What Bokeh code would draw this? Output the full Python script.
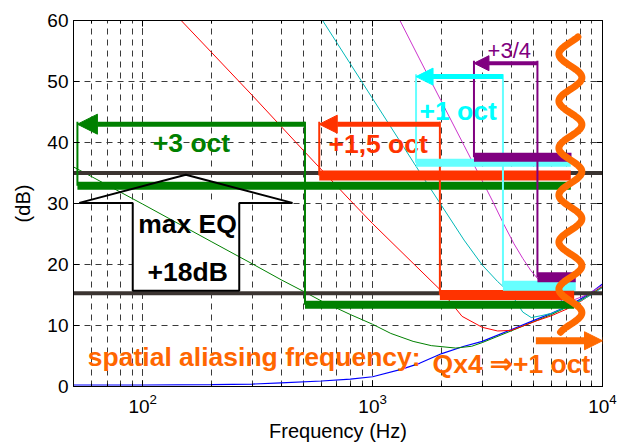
import numpy as np
from bokeh.plotting import figure
from bokeh.models import Arrow, NormalHead, FixedTicker, LogAxis, LinearAxis, CustomJSTickFormatter
from bokeh.core.properties import value
from bokeh.embed import file_html
from bokeh.resources import INLINE

# ---------------- data ----------------
y_ticks = [0, 10, 20, 30, 40, 50, 60]

blue_f = [50, 100, 200, 300, 400, 600, 800, 1000, 1330, 1600, 2000, 2500, 3000, 4000, 5000, 6000, 7000, 8000, 9000, 10000]
blue_db = [0.25, 0.25, 0.3, 0.4, 0.6, 0.9, 1.2, 1.6, 2.8, 3.8, 5.4, 6.6, 7.4, 9.3, 10.8, 12.0, 13.1, 14.3, 15.5, 16.8]

green_f = [50, 100, 200, 300, 400, 500, 600, 800, 1000, 1200, 1500, 1800, 2300, 2700, 3000, 4000, 5000, 6000, 7000, 8000, 9000, 10000]
green_db = [36, 29.9, 23.7, 20.1, 17.5, 15.6, 14.0, 11.8, 10.2, 8.7, 7.4, 6.7, 6.3, 6.6, 7.2, 9.1, 10.6, 11.8, 13.0, 14.1, 15.3, 16.4]

red_f = [147, 200, 300, 500, 800, 1000, 1500, 2000, 2450, 3000, 3500, 4000, 4500, 5200, 6000, 7000, 8000, 9000, 10000]
red_db = [60, 54.7, 47.7, 38.7, 30.5, 26.7, 20.2, 15.6, 11.5, 9.7, 9.1, 9.2, 9.9, 10.8, 11.6, 12.7, 13.9, 15.2, 16.3]

cyan_f = [606, 800, 1000, 1300, 1600, 2000, 2500, 3000, 3500, 4000, 4500, 4900, 5400, 6000, 7000, 8000, 9000, 10000]
cyan_db = [60, 52.9, 47.2, 40.5, 35.2, 29.6, 24.0, 19.9, 17.2, 15.2, 12.2, 11.3, 11.6, 12.0, 13.0, 14.0, 15.1, 16.2]

mag_f = [1315, 1600, 2000, 2500, 3000, 3325, 3720, 4120, 4500, 4880, 5300, 6000, 6700, 7500, 8500, 10000]
mag_db = [60, 53.7, 46.6, 39.5, 33.7, 30.4, 26.6, 23.4, 21.0, 19.0, 17.4, 15.2, 14.0, 14.2, 15.0, 16.6]

ref_db = [35.0, 15.3]

# extension groups: +3 oct, +1,5 oct, +1 oct, +3/4
grp_labels = ["+3 oct", "+1,5 oct", "+1 oct", "+3/4"]
grp_line_color = ["#008000", "#ff3300", "#00ffff", "#800080"]
grp_bar_color = ["#008000", "#ff3300", "#66ffff", "#800080"]
grp_vert_color = ["#008000", "#ff3300", "#66ffff", "#800080"]
upper_f0 = [52, 586, 1545, 2760]
upper_f1 = [7280, 7280, 7280, 7330]
upper_db = [32.9, 34.6, 36.7, 37.6]
lower_f0 = [508, 1962, 3690, 5212]
lower_f1 = [7530, 7530, 7650, 7650]
lower_db = [13.4, 15.0, 16.5, 17.9]
arrow_db = [43.0, 43.0, 50.8, 53.0]
label_f = [163, 1057, 2355, 3933]
label_db = [40.0, 39.8, 45.2, 55.1]

# max EQ shape
eq_f = [53, 90.5, 90.5, 263, 263, 448]
eq_db = [30.1, 30.1, 15.7, 15.7, 30.1, 30.1]
roof_f = [53, 154, 448]
roof_db = [30.1, 34.7, 30.1]

# spatial aliasing wave / arrow
wave_center_f = 7250
wave_top_db = 57.3
wave_bottom_db = 8.9
alias_arrow_f = [5130, 10000]
alias_arrow_db = 7.5

# ---------------- figure ----------------
FONT = "Liberation Sans"
BIG = "26.5px"
p = figure(width=625, height=444, x_axis_type="log", x_range=(50, 10000), y_range=(0, 60),
           output_backend="svg", toolbar_location=None,
           min_border_left=73, min_border_right=23, min_border_top=20, min_border_bottom=58,
           x_axis_label="Frequency (Hz)", y_axis_label="(dB)")
p.outline_line_color = "black"
p.outline_line_alpha = 1.0
p.background_fill_color = "white"
p.border_fill_color = "white"

p.yaxis.ticker = FixedTicker(ticks=y_ticks)
for g in (p.xgrid, p.ygrid):
    g.grid_line_color = "#3a3a3a"
    g.grid_line_dash = "6 5"
    g.grid_line_width = 1
p.xgrid.minor_grid_line_color = "#3a3a3a"
p.xgrid.minor_grid_line_dash = "6 5"

for ax in (p.xaxis[0], p.yaxis[0]):
    ax.axis_line_color = "black"
    ax.major_tick_in = 6
    ax.major_tick_out = 0
    ax.minor_tick_in = 3
    ax.minor_tick_out = 0
    ax.major_tick_line_color = "black"
    ax.minor_tick_line_color = "black"
    ax.major_label_text_font = FONT
    ax.major_label_text_font_size = "19px"
    ax.major_label_text_color = "black"
    ax.axis_label_text_font = FONT
    ax.axis_label_text_font_size = "20px"
    ax.axis_label_text_font_style = "normal"
    ax.axis_label_text_color = "black"
p.yaxis.minor_tick_line_color = None
p.xaxis.major_label_standoff = 7
p.xaxis.axis_label_standoff = 4
p.yaxis.major_label_standoff = 5
p.yaxis.axis_label_standoff = 10

# top / right axes: inward ticks, empty labels
blank = CustomJSTickFormatter(code="return ''")
top = LogAxis(major_tick_in=6, major_tick_out=0, minor_tick_in=3, minor_tick_out=0,
              formatter=blank, major_label_standoff=0, axis_line_color="black")
right = LinearAxis(ticker=FixedTicker(ticks=y_ticks), major_tick_in=6, major_tick_out=0,
                   minor_tick_line_color=None, formatter=CustomJSTickFormatter(code="return ''"),
                   major_label_standoff=0, axis_line_color="black")
p.add_layout(top, "above")
p.add_layout(right, "right")

# white box of the max EQ symbol (hides grid)
p.patch([eq_f[1], eq_f[3], eq_f[3], eq_f[1]], [eq_db[0], eq_db[0], eq_db[2], eq_db[2]],
        fill_color="white", line_color=None)

# curves
p.line(blue_f, blue_db, line_color="#0000ff", line_width=1.2)
p.line(green_f, green_db, line_color="#008000", line_width=1)
p.line(red_f, red_db, line_color="#ff0000", line_width=1)
p.line(cyan_f, cyan_db, line_color="#00b8b8", line_width=1)
p.line(mag_f, mag_db, line_color="#cc33cc", line_width=1)

# reference lines
p.segment(x0=[50] * len(ref_db), x1=[10000] * len(ref_db), y0=ref_db, y1=ref_db,
          line_color="#3b3431", line_width=4)

# bars, verticals, arrows, labels
for i in range(len(grp_labels)):
    p.segment(x0=[upper_f0[i]], x1=[upper_f1[i]], y0=[upper_db[i]], y1=[upper_db[i]],
              line_color=grp_bar_color[i], line_width=[8, 10, 8, 9][i])
    p.segment(x0=[lower_f0[i]], x1=[lower_f1[i]], y0=[lower_db[i]], y1=[lower_db[i]],
              line_color=grp_bar_color[i], line_width=[8, 10, 10, 10][i])
    p.segment(x0=[upper_f0[i], lower_f0[i]], x1=[upper_f0[i], lower_f0[i]],
              y0=[arrow_db[i] + 0.4, arrow_db[i] + 0.4], y1=[upper_db[i], lower_db[i]],
              line_color=grp_vert_color[i], line_width=2)
    hs = [20, 18, 17, 15][i]
    p.add_layout(Arrow(end=NormalHead(size=hs, fill_color=grp_line_color[i], line_color=grp_line_color[i]),
                       x_start=lower_f0[i], y_start=arrow_db[i], x_end=upper_f0[i], y_end=arrow_db[i],
                       line_color=grp_line_color[i], line_width=5 if i < 3 else 4))
    p.text(x=[label_f[i]], y=[label_db[i]], text=[grp_labels[i]], text_align="center",
           text_baseline="middle", text_color=grp_line_color[i], text_font=value(FONT),
           text_font_size=BIG if i < 3 else "22px",
           text_font_style="bold" if i < 3 else "normal")

# max EQ symbol
p.line(eq_f, eq_db, line_color="black", line_width=2)
p.line(roof_f, roof_db, line_color="black", line_width=2)
p.text(x=[156.6, 157], y=[26.7, 18.7], text=["max EQ", "+18dB"], text_align="center",
       text_baseline="middle", text_color="black", text_font=value(FONT),
       text_font_size=BIG, text_font_style="bold")

# spatial aliasing wave + arrow
wave_db = np.linspace(wave_top_db, wave_bottom_db, 300)
wave_f = wave_center_f * 10 ** (-0.05 * np.cos(2 * np.pi * (wave_db - 54.5) / 7.71))
p.line(wave_f, wave_db, line_color="#ff6a00", line_width=7, line_cap="round")
p.add_layout(Arrow(end=NormalHead(size=18, fill_color="#ff6a00", line_color="#ff6a00"),
                   x_start=alias_arrow_f[0], y_start=alias_arrow_db, x_end=alias_arrow_f[1],
                   y_end=alias_arrow_db, line_color="#ff6a00", line_width=7))
p.text(x=[57.7], y=[4.76], text=["spatial aliasing frequency:"], text_align="left",
       text_baseline="middle", text_color="#ff6600", text_font=value(FONT),
       text_font_size=BIG, text_font_style="bold")
p.text(x=[1823], y=[3.67], text=["Qx4 \u21d2+1 oct"], text_align="left",
       text_baseline="middle", text_color="#ff6600", text_font=value(FONT),
       text_font_size=BIG, text_font_style="bold")

open("out.html", "w").write(file_html(p, INLINE))
